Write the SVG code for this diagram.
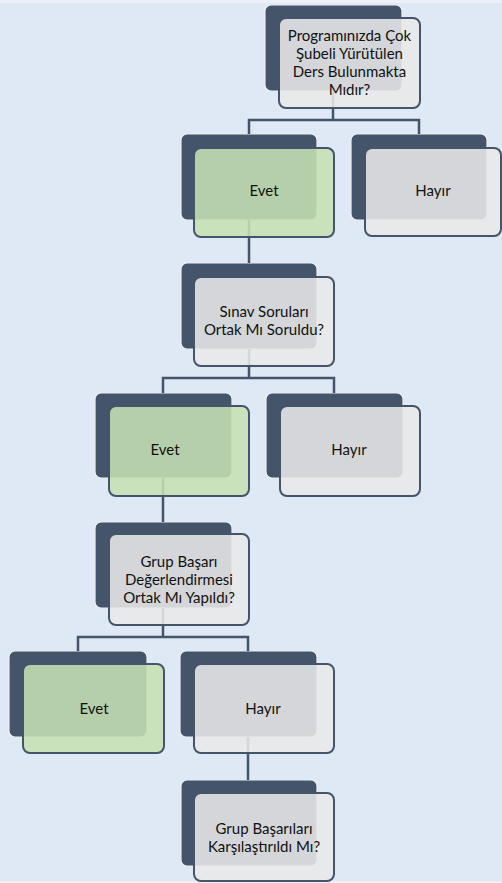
<svg xmlns="http://www.w3.org/2000/svg" width="502" height="883" viewBox="0 0 502 883">
<defs>
<style>
.bg{fill:#dfe9f5}
.dk{fill:#44546a;stroke:#eeeeee;stroke-width:1.2}
.lt{fill:#e8e8e8;fill-opacity:0.88;stroke:#44546a;stroke-width:2}
.gr{fill:#c6e0b4;fill-opacity:0.88;stroke:#44546a;stroke-width:2}
.cn{fill:none;stroke:#44546a;stroke-width:2.5}
text{font-family:Lato,"Open Sans","Liberation Sans",sans-serif;font-size:15px;fill:#111111;text-anchor:middle}
</style>
</defs>
<rect class="bg" x="0" y="0" width="502" height="883"/>
<rect x="0" y="0" width="502" height="3" fill="#ecf1f8"/>
<rect x="0" y="881" width="502" height="2" fill="#f4eeee"/>
<g id="darks">
<rect class="dk" x="265" y="5" width="137" height="86" rx="6"/>
<rect class="dk" x="181" y="134" width="136" height="86" rx="6"/>
<rect class="dk" x="351" y="134" width="136" height="86" rx="6"/>
<rect class="dk" x="181" y="263" width="136" height="86" rx="6"/>
<rect class="dk" x="95" y="393" width="137" height="85" rx="6"/>
<rect class="dk" x="266" y="393" width="137" height="85" rx="6"/>
<rect class="dk" x="95" y="522" width="137" height="86" rx="6"/>
<rect class="dk" x="9" y="651" width="138" height="86" rx="6"/>
<rect class="dk" x="180" y="651" width="137" height="86" rx="6"/>
<rect class="dk" x="181" y="780" width="136" height="86" rx="6"/>
</g>
<g id="connectors">
<path class="cn" d="M333 91V120M249 134V120H419V134"/>
<path class="cn" d="M249 220V263"/>
<path class="cn" d="M249 349V378M163 393V378H334V393"/>
<path class="cn" d="M163 478V522"/>
<path class="cn" d="M163 608V637M78 651V637H248V651"/>
<path class="cn" d="M248 737V780"/>
</g>
<g id="n1">
<rect class="lt" x="279" y="18" width="141" height="90" rx="7"/>
<text x="349.5" y="41">Programınızda Çok</text>
<text x="349.5" y="59">Şubeli Yürütülen</text>
<text x="349.5" y="77">Ders Bulunmakta</text>
<text x="349.5" y="95">Mıdır?</text>
</g>
<g id="n2">
<rect class="gr" x="194" y="148" width="140" height="89" rx="7"/>
<text x="264" y="196">Evet</text>
</g>
<g id="n3">
<rect class="lt" x="365" y="148" width="136" height="88" rx="7"/>
<text x="433" y="196">Hayır</text>
</g>
<g id="n4">
<rect class="lt" x="194" y="277" width="140" height="89" rx="7"/>
<text x="264" y="317">Sınav Soruları</text>
<text x="264" y="335">Ortak Mı Soruldu?</text>
</g>
<g id="n5">
<rect class="gr" x="109" y="406" width="140" height="90" rx="7"/>
<text x="165" y="455">Evet</text>
</g>
<g id="n6">
<rect class="lt" x="280" y="406" width="140" height="90" rx="7"/>
<text x="349" y="455">Hayır</text>
</g>
<g id="n7">
<rect class="lt" x="109" y="534" width="140" height="91" rx="7"/>
<text x="179" y="567">Grup Başarı</text>
<text x="179" y="585">Değerlendirmesi</text>
<text x="179" y="603">Ortak Mı Yapıldı?</text>
</g>
<g id="n8">
<rect class="gr" x="23" y="664" width="141" height="89" rx="7"/>
<text x="94" y="714">Evet</text>
</g>
<g id="n9">
<rect class="lt" x="194" y="664" width="140" height="89" rx="7"/>
<text x="263" y="714">Hayır</text>
</g>
<g id="n10">
<rect class="lt" x="194" y="793" width="140" height="88" rx="7"/>
<text x="264" y="834">Grup Başarıları</text>
<text x="264" y="852">Karşılaştırıldı Mı?</text>
</g>
</svg>
